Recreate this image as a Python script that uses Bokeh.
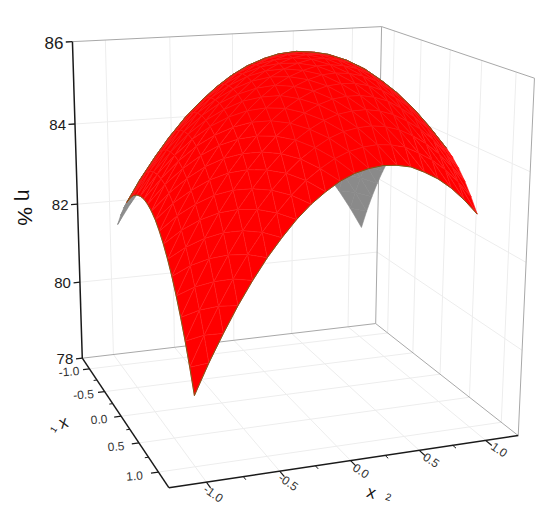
import numpy as np
from bokeh.plotting import figure
from bokeh.models import Range1d
from bokeh.core.properties import value
from bokeh.embed import file_html
from bokeh.resources import INLINE

x1_grid=[-1.0,-0.9,-0.8,-0.7,-0.6,-0.5,-0.4,-0.3,-0.2,-0.1,0.0,0.1,0.2,0.3,0.4,0.5,0.6,0.7,0.8,0.9,1.0]
x2_grid=[-1.0,-0.9,-0.8,-0.7,-0.6,-0.5,-0.4,-0.3,-0.2,-0.1,0.0,0.1,0.2,0.3,0.4,0.5,0.6,0.7,0.8,0.9,1.0]
eta_values=[
[81.62,82.10,82.51,82.88,83.19,83.46,83.65,83.81,83.91,83.95,83.95,83.89,83.77,83.61,83.39,83.12,82.79,82.42,81.99,81.50,80.96],
[81.93,82.41,82.84,83.21,83.54,83.81,84.02,84.19,84.30,84.35,84.36,84.31,84.20,84.05,83.84,83.57,83.26,82.89,82.48,81.99,81.47],
[82.19,82.69,83.12,83.51,83.84,84.13,84.35,84.52,84.65,84.71,84.72,84.69,84.59,84.44,84.25,83.99,83.68,83.33,82.92,82.45,81.93],
[82.41,82.92,83.36,83.76,84.11,84.40,84.63,84.81,84.95,85.02,85.04,85.02,84.93,84.79,84.61,84.36,84.07,83.72,83.32,82.86,82.35],
[82.59,83.11,83.56,83.97,84.32,84.62,84.87,85.06,85.21,85.29,85.32,85.31,85.23,85.10,84.93,84.70,84.40,84.07,83.68,83.23,82.73],
[82.73,83.25,83.72,84.13,84.50,84.80,85.06,85.27,85.42,85.51,85.56,85.55,85.48,85.37,85.20,84.98,84.70,84.37,84.00,83.55,83.07],
[82.82,83.36,83.83,84.26,84.63,84.95,85.21,85.43,85.59,85.69,85.75,85.75,85.69,85.59,85.43,85.23,84.95,84.64,84.27,83.84,83.36],
[82.87,83.41,83.90,84.34,84.72,85.04,85.32,85.55,85.72,85.83,85.90,85.91,85.86,85.77,85.62,85.42,85.16,84.86,84.50,84.07,83.61],
[82.88,83.43,83.92,84.37,84.77,85.10,85.39,85.63,85.81,85.93,86.01,86.03,85.99,85.91,85.77,85.58,85.33,85.03,84.68,84.27,83.82],
[82.84,83.40,83.91,84.37,84.77,85.11,85.41,85.66,85.85,85.98,86.07,86.10,86.07,86.00,85.87,85.69,85.45,85.17,84.83,84.42,83.98],
[82.76,83.34,83.85,84.32,84.73,85.09,85.39,85.65,85.85,85.99,86.09,86.13,86.11,86.05,85.93,85.77,85.53,85.26,84.93,84.54,84.10],
[82.64,83.22,83.75,84.23,84.65,85.01,85.33,85.60,85.81,85.96,86.07,86.12,86.11,86.06,85.95,85.79,85.57,85.31,84.99,84.60,84.18],
[82.47,83.07,83.60,84.09,84.52,84.90,85.23,85.50,85.73,85.89,86.00,86.07,86.07,86.02,85.93,85.78,85.56,85.31,85.00,84.63,84.21],
[82.26,82.87,83.41,83.91,84.36,84.74,85.08,85.36,85.60,85.77,85.89,85.97,85.98,85.94,85.86,85.72,85.52,85.27,84.97,84.61,84.20],
[82.01,82.63,83.18,83.69,84.14,84.54,84.89,85.18,85.43,85.61,85.74,85.83,85.85,85.82,85.75,85.62,85.42,85.19,84.90,84.55,84.15],
[81.72,82.34,82.91,83.43,83.89,84.29,84.65,84.96,85.21,85.40,85.55,85.64,85.67,85.66,85.59,85.47,85.29,85.07,84.79,84.44,84.06],
[81.38,82.02,82.59,83.12,83.59,84.01,84.37,84.69,84.95,85.15,85.31,85.41,85.45,85.45,85.39,85.29,85.11,84.90,84.63,84.30,83.92],
[81.00,81.64,82.23,82.77,83.25,83.67,84.05,84.38,84.65,84.86,85.03,85.14,85.19,85.20,85.15,85.05,84.89,84.69,84.43,84.10,83.74],
[80.58,81.23,81.82,82.37,82.87,83.30,83.69,84.03,84.31,84.53,84.71,84.83,84.89,84.91,84.87,84.78,84.63,84.43,84.18,83.87,83.52],
[80.11,80.78,81.38,81.94,82.44,82.89,83.28,83.63,83.92,84.15,84.34,84.47,84.54,84.57,84.54,84.47,84.32,84.14,83.90,83.60,83.25],
[79.60,80.28,80.89,81.46,81.97,82.43,82.83,83.19,83.49,83.73,83.93,84.07,84.15,84.19,84.17,84.11,83.97,83.80,83.57,83.28,82.94],
]
x_ticks=[-1.0,-0.5,0.0,0.5,1.0]
x_minor=[-0.75,-0.25,0.25,0.75]
x_labels=["-1.0","-0.5","0.0","0.5","1.0"]
z_ticks=[78,80,82,84,86]
z_labels=["78","80","82","84","86"]
z_sizes=[15,15,15,15,17]
Z=np.array(eta_values)

# camera of the box, calibrated on its visible corners (screen px)
R=1.25
box=[((-R,-R,78),(82,358)),((-R,-R,86),(72,41)),((R,-R,78),(168,487)),((R,R,78),(518,435)),((R,R,86),(534,78)),((-R,R,78),(375,323)),((-R,R,86),(381,26))]
A=[];bb=[]
for (x,y,z),(u,v) in box:
    A.append([x,y,z,1,0,0,0,0,-u*x,-u*y,-u*z]);bb.append(u)
    A.append([0,0,0,0,x,y,z,1,-v*x,-v*y,-v*z]);bb.append(v)
s=np.linalg.lstsq(np.array(A,float),np.array(bb,float),rcond=None)[0]
P=np.append(s,1).reshape(3,4)
def pr(x,y,z):
    q=P@np.array([x,y,z,1.0]);return q[0]/q[2],q[1]/q[2],q[2]

p=figure(width=550,height=508,x_range=Range1d(0,550),y_range=Range1d(508,0),toolbar_location=None,output_backend="svg",min_border=0,outline_line_color=None)
p.axis.visible=False; p.grid.visible=False

def seg(P1,P2,color,w):
    a_=pr(*P1);b_=pr(*P2)
    p.line([a_[0],b_[0]],[a_[1],b_[1]],line_color=color,line_width=w)

GRID="#ededed"; WALL="#a8a8a8"; AX="#1a1a1a"
for t in x_ticks:
    seg((t,-R,78),(t,R,78),GRID,1); seg((-R,t,78),(R,t,78),GRID,1)
    seg((-R,t,78),(-R,t,86),GRID,1); seg((t,R,78),(t,R,86),GRID,1)
for z in z_ticks[1:-1]:
    seg((-R,-R,z),(-R,R,z),GRID,1); seg((-R,R,z),(R,R,z),GRID,1)
seg((-R,-R,86),(-R,R,86),WALL,1); seg((-R,R,86),(R,R,86),WALL,1)
seg((-R,R,78),(-R,R,86),WALL,1); seg((R,R,78),(R,R,86),WALL,1)
seg((-R,-R,78),(-R,R,78),WALL,1); seg((-R,R,78),(R,R,78),WALL,1)
seg((-R,-R,78),(-R,-R,86),AX,1.5); seg((-R,-R,78),(R,-R,78),AX,1.5); seg((R,-R,78),(R,R,78),AX,1.5)
for t in x_ticks:
    seg((t,-R,78),(t,-R-.05,78),AX,1.2); seg((R,t,78),(R+.09,t,78),AX,1.2)
for t in x_minor:
    seg((t,-R,78),(t,-R-.025,78),AX,1); seg((R,t,78),(R+.05,t,78),AX,1)

n=len(x1_grid)
tris=[]
for i in range(n-1):
    for j in range(n-1):
        q=[(i,j),(i+1,j),(i+1,j+1),(i,j+1)]
        tris.append((q[0],q[1],q[2])); tris.append((q[0],q[2],q[3]))
def xyw(ij):
    return pr(x1_grid[ij[0]],x2_grid[ij[1]],Z[ij])
data=[]
for t in tris:
    pts=[xyw(k) for k in t]
    xs=[k[0] for k in pts]; ys=[k[1] for k in pts]; dep=np.mean([k[2] for k in pts])
    area=sum(xs[k]*ys[(k+1)%3]-xs[(k+1)%3]*ys[k] for k in range(3))
    data.append((dep,xs,ys,area,t))
near=min(data,key=lambda d:d[0])
fs=np.sign(near[3])
data.sort(key=lambda d:-d[0])
p.patches([d[1] for d in data],[d[2] for d in data],
  fill_color=["#ff0000" if np.sign(d[3])==fs else "#8a8a8a" for d in data],
  line_color=["#ff1c1c" if np.sign(d[3])==fs else "#8a8a8a" for d in data],line_width=0.6)
edge={}
for d in data:
    t=d[4];f=np.sign(d[3])==fs
    for k in range(3):
        key=tuple(sorted((t[k],t[(k+1)%3])))
        edge.setdefault(key,[]).append(f)
EDGE="#7d5a18"
for key,fl in edge.items():
    draw=False
    if len(fl)==2 and fl[0]!=fl[1]: draw=True
    if len(fl)==1 and fl[0] and (key[0][0]==n-1 and key[1][0]==n-1 or key[0][1]==0 and key[1][1]==0): draw=True
    if draw:
        A_=xyw(key[0]);B_=xyw(key[1])
        p.line([A_[0],B_[0]],[A_[1],B_[1]],line_color=EDGE,line_width=1)

def txt(x,y,s,size,angle=0,color="#1a1a1a",align="center",baseline="middle"):
    p.text([x],[y],text=[s],text_font=value("Liberation Sans"),text_font_size=f"{size}px",angle=angle,text_color=color,text_align=align,text_baseline=baseline)
for z,s,sz in zip(z_ticks,z_labels,z_sizes):
    seg((-R,-R,z),(-R,-R-.05,z),AX,1.3)
    u,v,_=pr(-R,-R,z)
    txt(u-9,v+1,s,sz,align="right")
for t,s in zip(x_ticks,x_labels):
    u,v,_=pr(t,-R-.16,78); txt(u,v,s,12,angle=0.08,color="#333333")
    u,v,_=pr(R+.3,t,78); txt(u-7,v-8,s,12,angle=-0.6,color="#333333")
txt(63,422,"x",17,angle=0.3,color="#222222")
txt(53,429,"1",9,angle=1.0,color="#222222")
txt(371,492,"x",17,angle=-0.3,color="#111111")
txt(388,496,"2",10,angle=-0.3,color="#222222")
txt(25,207,"η %",21,angle=-np.pi/2,color="#111111")
open("out.html","w").write(file_html(p,INLINE))
